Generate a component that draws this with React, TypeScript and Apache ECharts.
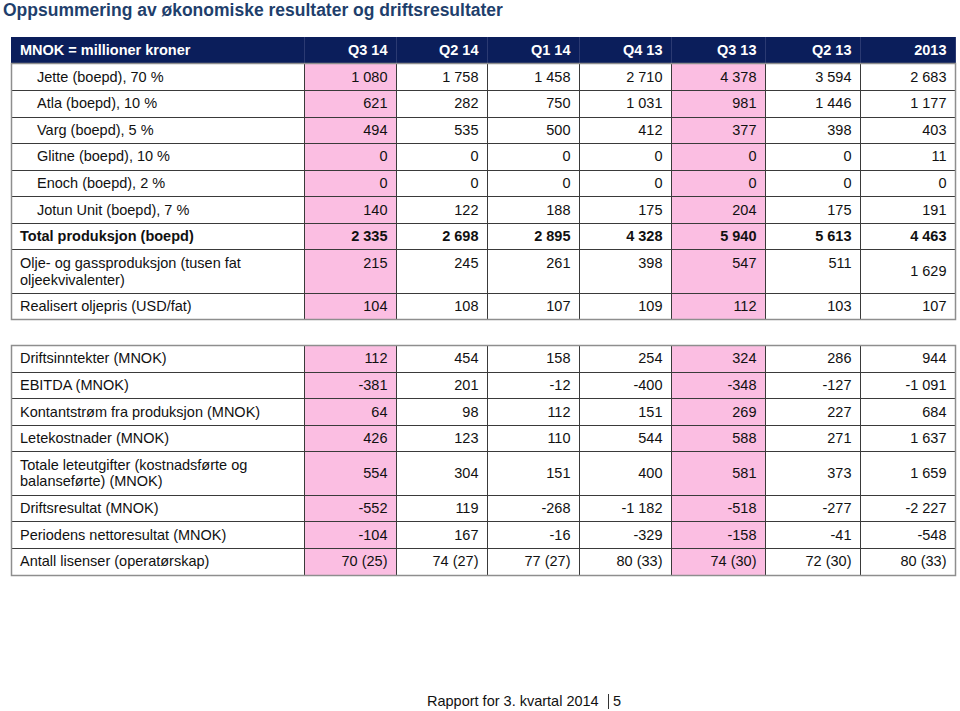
import React, { useEffect, useRef } from "react";
import * as echarts from "echarts";

// ---- data ----
const title = "Oppsummering av økonomiske resultater og driftsresultater";
const unitLabel = "MNOK = millioner kroner";
const quarters = ["Q3 14", "Q2 14", "Q1 14", "Q4 13", "Q3 13", "Q2 13", "2013"];
const highlighted = ["Q3 14", "Q3 13"];

const fieldLabels = [
  "Jette (boepd), 70 %",
  "Atla (boepd), 10 %",
  "Varg (boepd), 5 %",
  "Glitne (boepd), 10 %",
  "Enoch (boepd), 2 %",
  "Jotun Unit (boepd), 7 %",
];
const jette = [1080, 1758, 1458, 2710, 4378, 3594, 2683];
const atla = [621, 282, 750, 1031, 981, 1446, 1177];
const varg = [494, 535, 500, 412, 377, 398, 403];
const glitne = [0, 0, 0, 0, 0, 0, 11];
const enoch = [0, 0, 0, 0, 0, 0, 0];
const jotun = [140, 122, 188, 175, 204, 175, 191];
const totalProduction = [2335, 2698, 2895, 4328, 5940, 5613, 4463];
const oilGasProduction = [215, 245, 261, 398, 547, 511, 1629];
const realisedOilPrice = [104, 108, 107, 109, 112, 103, 107];

const operatingRevenue = [112, 454, 158, 254, 324, 286, 944];
const ebitda = [-381, 201, -12, -400, -348, -127, -1091];
const cashFlowProduction = [64, 98, 112, 151, 269, 227, 684];
const explorationCosts = [426, 123, 110, 544, 588, 271, 1637];
const totalExploration = [554, 304, 151, 400, 581, 373, 1659];
const operatingResult = [-552, 119, -268, -1182, -518, -277, -2227];
const netResult = [-104, 167, -16, -329, -158, -41, -548];
const licences = [70, 74, 77, 80, 74, 72, 80];
const operatorships = [25, 27, 27, 33, 30, 30, 33];

const footerText = "Rapport for 3. kvartal 2014";
const pageNumber = "5";

// ---- layout / style ----
const colEdges = [11, 304, 396, 487, 579, 671, 765, 860, 955];
const table1Top = 37;
const table2Top = 345;
const headerH = 26.3;
const rowH = 26.6;
const tallH = 43.3;
const FONT = '"Liberation Sans", Arial, Helvetica, sans-serif';
const NAVY = "#0B1E5B";
const PINK = "#FBBEE2";
const TEXT = "#111111";
const GRID = "#3a3a3a";
const OUTER = "#8e8e8e";

const fmt = (n: number) => {
  const s = Math.abs(n)
    .toString()
    .replace(/\B(?=(\d{3})+(?!\d))/g, " ");
  return (n < 0 ? "-" : "") + s;
};

type Row = {
  label: string;
  values: string[];
  kind: "header" | "sub" | "bold" | "normal";
  tall?: boolean;
  topValueCols?: number;
};

const table1Rows: Row[] = [
  { label: unitLabel, values: quarters, kind: "header" },
  { label: fieldLabels[0], values: jette.map(fmt), kind: "sub" },
  { label: fieldLabels[1], values: atla.map(fmt), kind: "sub" },
  { label: fieldLabels[2], values: varg.map(fmt), kind: "sub" },
  { label: fieldLabels[3], values: glitne.map(fmt), kind: "sub" },
  { label: fieldLabels[4], values: enoch.map(fmt), kind: "sub" },
  { label: fieldLabels[5], values: jotun.map(fmt), kind: "sub" },
  { label: "Total produksjon (boepd)", values: totalProduction.map(fmt), kind: "bold" },
  {
    label: "Olje- og gassproduksjon (tusen fat\noljeekvivalenter)",
    values: oilGasProduction.map(fmt),
    kind: "normal",
    tall: true,
    topValueCols: 6,
  },
  { label: "Realisert oljepris (USD/fat)", values: realisedOilPrice.map(fmt), kind: "normal" },
];

const table2Rows: Row[] = [
  { label: "Driftsinntekter (MNOK)", values: operatingRevenue.map(fmt), kind: "normal" },
  { label: "EBITDA (MNOK)", values: ebitda.map(fmt), kind: "normal" },
  { label: "Kontantstrøm fra produksjon (MNOK)", values: cashFlowProduction.map(fmt), kind: "normal" },
  { label: "Letekostnader (MNOK)", values: explorationCosts.map(fmt), kind: "normal" },
  {
    label: "Totale leteutgifter (kostnadsførte og\nbalanseførte) (MNOK)",
    values: totalExploration.map(fmt),
    kind: "normal",
    tall: true,
  },
  { label: "Driftsresultat (MNOK)", values: operatingResult.map(fmt), kind: "normal" },
  { label: "Periodens nettoresultat (MNOK)", values: netResult.map(fmt), kind: "normal" },
  {
    label: "Antall lisenser (operatørskap)",
    values: licences.map((l, i) => `${l} (${operatorships[i]})`),
    kind: "normal",
  },
];

type Cell = {
  col: number;
  y0: number;
  y1: number;
  text: string;
  kind: Row["kind"];
  pink: boolean;
  top: boolean;
  firstRow: boolean;
};

function buildCells(rows: Row[], top: number): { cells: Cell[]; bottom: number; bodyTop: number } {
  const cells: Cell[] = [];
  let y = top;
  let bodyTop = top;
  rows.forEach((r, ri) => {
    const h = r.kind === "header" ? headerH : r.tall ? tallH : rowH;
    for (let c = 0; c < colEdges.length - 1; c++) {
      const q = c > 0 ? quarters[c - 1] : "";
      cells.push({
        col: c,
        y0: y,
        y1: y + h,
        text: c === 0 ? r.label : r.values[c - 1],
        kind: r.kind,
        pink: r.kind !== "header" && highlighted.includes(q),
        top: c > 0 && r.topValueCols !== undefined && c <= r.topValueCols,
        firstRow: ri === 0,
      });
    }
    y += h;
    if (r.kind === "header") bodyTop = y;
  });
  return { cells, bottom: y, bodyTop };
}

const t1 = buildCells(table1Rows, table1Top);
const t2 = buildCells(table2Rows, table2Top);
const allCells = [...t1.cells, ...t2.cells];

const crisp = (v: number) => Math.round(v) + 0.5;

export default function App() {
  const ref = useRef<HTMLDivElement>(null);

  useEffect(() => {
    if (!ref.current) return;
    const chart = echarts.init(ref.current, undefined, { renderer: "svg" });

    const cellBox = (api: any, idx: number) => {
      const c = allCells[idx];
      const p0 = api.coord([colEdges[c.col], c.y0]);
      const p1 = api.coord([colEdges[c.col + 1], c.y1]);
      return { c, p0, p1 };
    };

    const renderFill = (params: any, api: any) => {
      const { c, p0, p1 } = cellBox(api, params.dataIndex);
      const isHeader = c.kind === "header";
      const x0 = Math.round(p0[0]);
      const y0 = Math.round(p0[1]);
      return {
        type: "rect",
        shape: { x: x0, y: y0, width: Math.round(p1[0]) - x0 + 1, height: Math.round(p1[1]) - y0 + 1 },
        style: { fill: isHeader ? NAVY : c.pink ? PINK : "#ffffff" },
      };
    };

    const renderLinesText = (params: any, api: any) => {
      const { c, p0, p1 } = cellBox(api, params.dataIndex);
      const isHeader = c.kind === "header";
      const children: any[] = [];
      const lineColor = isHeader ? "#2b3a72" : GRID;
      children.push({
        type: "line",
        shape: { x1: crisp(p1[0]), y1: Math.round(p0[1]), x2: crisp(p1[0]), y2: Math.round(p1[1]) + 1 },
        style: { stroke: lineColor, lineWidth: 1 },
      });
      children.push({
        type: "line",
        shape: { x1: Math.round(p0[0]), y1: crisp(p1[1]), x2: Math.round(p1[0]) + 1, y2: crisp(p1[1]) },
        style: { stroke: GRID, lineWidth: 1 },
      });
      if (c.firstRow && !isHeader) {
        children.push({
          type: "line",
          shape: { x1: Math.round(p0[0]), y1: crisp(p0[1]), x2: Math.round(p1[0]) + 1, y2: crisp(p0[1]) },
          style: { stroke: GRID, lineWidth: 1 },
        });
      }
      const multiline = c.text.includes("\n");
      let tx: number;
      let align: string;
      if (c.col === 0) {
        tx = p0[0] + (c.kind === "sub" ? 26 : 9);
        align = "left";
      } else {
        tx = p1[0] - 8.5;
        align = "right";
      }
      const ty = c.top ? p0[1] + 13.3 : (p0[1] + p1[1]) / 2;
      children.push({
        type: "text",
        style: {
          x: tx,
          y: ty,
          text: c.text,
          fill: isHeader ? "#ffffff" : TEXT,
          fontFamily: FONT,
          fontSize: 14.5,
          fontWeight: isHeader || c.kind === "bold" ? "bold" : "normal",
          align,
          verticalAlign: "middle",
          lineHeight: multiline ? 16.8 : undefined,
        },
      });
      return { type: "group", children };
    };

    const outer = (top: number, bottom: number) => ({
      type: "rect",
      z: 100,
      shape: {
        x: crisp(colEdges[0]),
        y: crisp(top),
        width: Math.round(colEdges[colEdges.length - 1]) - Math.round(colEdges[0]),
        height: Math.round(bottom) - Math.round(top),
      },
      style: { fill: "none", stroke: OUTER, lineWidth: 1.5 },
    });

    const cellData = allCells.map((c) => [c.col, c.y0]);

    chart.setOption({
      animation: false,
      grid: { left: 0, top: 0, width: 960, height: 711 },
      xAxis: { type: "value", min: 0, max: 960, show: false },
      yAxis: { type: "value", min: 0, max: 711, inverse: true, show: false },
      series: [
        { type: "custom", renderItem: renderFill, clip: false, z: 2, data: cellData },
        { type: "custom", renderItem: renderLinesText, clip: false, z: 3, data: cellData },
      ],
      graphic: [
        outer(t1.bodyTop, t1.bottom),
        outer(t2.bodyTop, t2.bottom),
        {
          type: "text",
          z: 100,
          style: {
            x: 3,
            y: 10,
            text: title,
            fill: "#1F3F6C",
            fontFamily: FONT,
            fontSize: 17.5,
            fontWeight: "bold",
            verticalAlign: "middle",
          },
        },
        {
          type: "text",
          z: 100,
          style: {
            x: 427,
            y: 701,
            text: footerText,
            fill: TEXT,
            fontFamily: FONT,
            fontSize: 14.5,
            verticalAlign: "middle",
          },
        },
        {
          type: "line",
          z: 100,
          shape: { x1: 608.5, y1: 694, x2: 608.5, y2: 709 },
          style: { stroke: "#333", lineWidth: 1 },
        },
        {
          type: "text",
          z: 100,
          style: {
            x: 613,
            y: 701,
            text: pageNumber,
            fill: TEXT,
            fontFamily: FONT,
            fontSize: 14.5,
            verticalAlign: "middle",
          },
        },
      ],
    });

    return () => chart.dispose();
  }, []);

  return (
    <div
      ref={ref}
      style={{ position: "absolute", left: 0, top: 0, width: 960, height: 711 }}
    />
  );
}
